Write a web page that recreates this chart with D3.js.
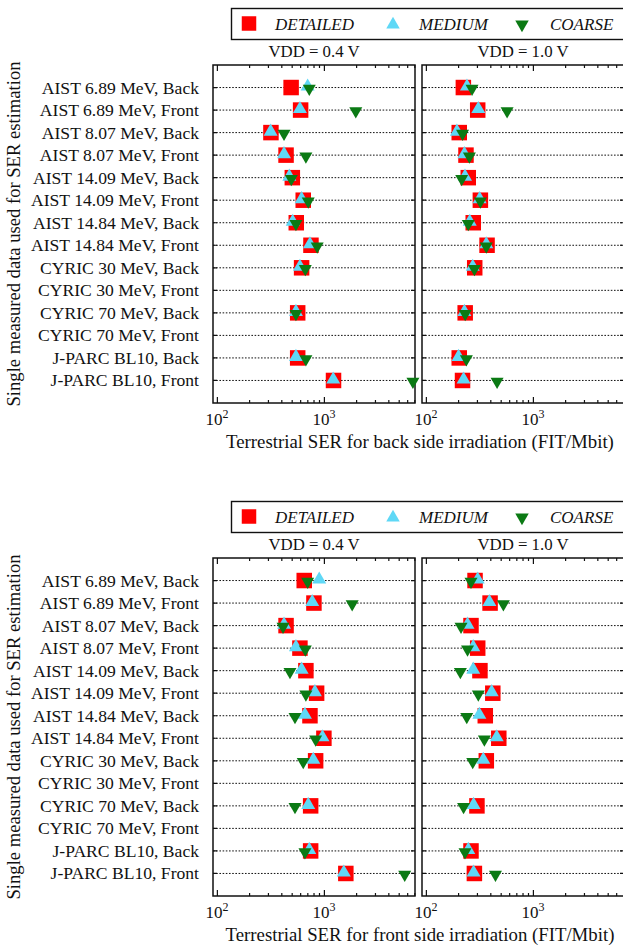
<!DOCTYPE html>
<html>
<head>
<meta charset="utf-8">
<script src="https://cdn.jsdelivr.net/npm/d3@7"></script>
<style>
  html, body { margin: 0; padding: 0; background: #fff; }
  svg { display: block; }
  text { font-family: "Liberation Serif", "Times New Roman", serif; fill: #111; }
</style>
</head>
<body>
<svg id="chart" width="623" height="950"></svg>
<script>
// Measured-data sources used for the SER estimation (one row each)
const categories = [
  "AIST 6.89 MeV, Back", "AIST 6.89 MeV, Front",
  "AIST 8.07 MeV, Back", "AIST 8.07 MeV, Front",
  "AIST 14.09 MeV, Back", "AIST 14.09 MeV, Front",
  "AIST 14.84 MeV, Back", "AIST 14.84 MeV, Front",
  "CYRIC 30 MeV, Back", "CYRIC 30 MeV, Front",
  "CYRIC 70 MeV, Back", "CYRIC 70 MeV, Front",
  "J-PARC BL10, Back", "J-PARC BL10, Front"
];

const seriesNames = ["DETAILED", "MEDIUM", "COARSE"];
const voltageLabels = ["VDD = 0.4 V", "VDD = 1.0 V"];
const axisTitles = [
  "Terrestrial SER for back side irradiation (FIT/Mbit)",
  "Terrestrial SER for front side irradiation (FIT/Mbit)"
];
const yTitle = "Single measured data used for SER estimation";
const majorTicks = [100, 1000];
const minorTicks = [200, 300, 400, 500, 600, 700, 800, 900, 2000, 3000, 4000, 5000, 6000, 7000];

// Terrestrial SER (FIT/Mbit), back side irradiation
const back04Detailed = [494, 606, 320, 443, 507, 641, 552, 757, 619, null, 569, null, 569, 1230];
const back04Medium   = [705, 597, 318, 424, 475, 619, 511, 741, 597, null, 548, null, 548, 1222];
const back04Coarse   = [730, 1986, 424, 679, 496, 714, 548, 866, 670, null, 548, null, 679, 6790];
const back10Detailed = [224, 305, 205, 237, 249, 323, 277, 373, 286, null, 233, null, 205, 220];
const back10Medium   = [242, 309, 195, 229, 232, 318, 257, 367, 274, null, 229, null, 202, 225];
const back10Coarse   = [270, 574, 220, 255, 216, 323, 249, 367, 284, null, 233, null, 239, 463];

// Terrestrial SER (FIT/Mbit), front side irradiation
const front04Detailed = [655, 807, 443, 597, 679, 855, 741, 1000, 837, null, 752, null, 752, 1603];
const front04Medium   = [904, 778, 424, 548, 619, 824, 665, 970, 796, null, 714, null, 730, 1535];
const front04Coarse   = [705, 1837, 415, 670, 482, 679, 537, 837, 641, null, 537, null, 665, 5690];
const front10Detailed = [288, 398, 264, 305, 320, 422, 359, 480, 367, null, 300, null, 264, 284];
const front10Medium   = [305, 392, 245, 277, 277, 412, 316, 459, 344, null, 279, null, 249, 279];
const front10Coarse   = [264, 530, 213, 245, 210, 309, 241, 352, 274, null, 225, null, 232, 447];

const figures = [
  { top: 65,  title: axisTitles[0], panels: [
      [back04Detailed, back04Medium, back04Coarse],
      [back10Detailed, back10Medium, back10Coarse] ] },
  { top: 558, title: axisTitles[1], panels: [
      [front04Detailed, front04Medium, front04Coarse],
      [front10Detailed, front10Medium, front10Coarse] ] }
];

const colors = ["#ff0000", "#5fd8f6", "#0b7a14"];
const panelLeft = [213, 422];
const panelW = 202;
const panelH = 338;

const svg = d3.select("#chart");

const x = d3.scaleLog().domain([92, 7100]).range([0, panelW]);
const y = d3.scalePoint().domain(categories).range([0, panelH]).padding(1);

const squareSym = d3.symbol().type(d3.symbolSquare).size(15.5 * 15.5);
const upTri = d3.symbol().type(d3.symbolTriangle).size(14 * 14 * Math.sqrt(3) / 4);
const downTri = d3.symbol().type(d3.symbolTriangle).size(13 * 13 * Math.sqrt(3) / 4);

figures.forEach((fig) => {
  const g = svg.append("g");
  const top = fig.top;

  // legend box (runs past the right edge)
  const lg = g.append("g").attr("transform", `translate(0,${top - 57})`);
  lg.append("rect")
    .attr("x", 231.5).attr("y", 0.5).attr("width", 420).attr("height", 31)
    .attr("fill", "#fff").attr("stroke", "#111").attr("stroke-width", 1.4);
  const legendX = [249, 393, 522];
  seriesNames.forEach((name, k) => {
    const p = lg.append("path").attr("fill", colors[k]);
    if (k === 0) p.attr("d", d3.symbol().type(d3.symbolSquare).size(14.5 * 14.5)());
    else p.attr("d", d3.symbol().type(d3.symbolTriangle).size(13.5 * 13.5 * Math.sqrt(3) / 4)());
    p.attr("transform", `translate(${legendX[k]},${k === 0 ? 15.5 : 16.5})${k === 2 ? " rotate(180)" : ""}`);
    lg.append("text")
      .attr("x", legendX[k] + (k === 2 ? 28 : 26)).attr("y", 21.5)
      .attr("font-size", 17).attr("font-style", "italic")
      .text(name);
  });

  // y-axis title
  g.append("text")
    .attr("transform", `translate(20,${top + panelH / 2}) rotate(-90)`)
    .attr("text-anchor", "middle").attr("font-size", 18.6)
    .text(yTitle);

  // category labels
  g.append("g").selectAll("text").data(categories).join("text")
    .attr("x", 199).attr("y", d => top + y(d) + 6)
    .attr("text-anchor", "end").attr("font-size", 17.6)
    .text(d => d);

  fig.panels.forEach((series, pi) => {
    const pg = g.append("g").attr("transform", `translate(${panelLeft[pi]},${top})`);

    // panel title
    pg.append("text")
      .attr("x", panelW / 2).attr("y", -8)
      .attr("text-anchor", "middle").attr("font-size", 16.8)
      .text(voltageLabels[pi]);

    // dotted row lines
    pg.append("g").selectAll("line").data(categories).join("line")
      .attr("x1", 0).attr("x2", panelW)
      .attr("y1", d => y(d)).attr("y2", d => y(d))
      .attr("stroke", "#111").attr("stroke-width", 1)
      .attr("stroke-dasharray", "1.6,1.6");

    // row ticks on left / right frame
    pg.append("g").selectAll("path").data(categories).join("path")
      .attr("d", d => `M0,${y(d)}h4M${panelW},${y(d)}h-4`)
      .attr("stroke", "#111").attr("stroke-width", 1.2);

    // bottom and top axes with inward ticks
    const xb = d3.axisBottom(x).tickValues(majorTicks).tickSize(-6).tickFormat("");
    const xbm = d3.axisBottom(x).tickValues(minorTicks).tickSize(-3).tickFormat("");
    const xt = d3.axisTop(x).tickValues(majorTicks).tickSize(-6).tickFormat("");
    const xtm = d3.axisTop(x).tickValues(minorTicks).tickSize(-3).tickFormat("");
    [[xb, panelH], [xbm, panelH], [xt, 0], [xtm, 0]].forEach(([ax, yy]) => {
      const a = pg.append("g").attr("transform", `translate(0,${yy})`).call(ax);
      a.select(".domain").remove();
      a.selectAll("line").attr("stroke", "#111").attr("stroke-width", 1.2);
    });

    // 10^n tick labels
    const lab = pg.append("g").selectAll("text").data(majorTicks).join("text")
      .attr("x", d => x(d)).attr("y", panelH + 22)
      .attr("text-anchor", "middle").attr("font-size", 17);
    lab.append("tspan").text("10");
    lab.append("tspan").attr("dy", -7).attr("font-size", 12).text(d => Math.round(Math.log10(d)));

    // frame
    pg.append("rect")
      .attr("x", 0).attr("y", 0).attr("width", panelW).attr("height", panelH)
      .attr("fill", "none").attr("stroke", "#111").attr("stroke-width", 1.5);

    // markers: detailed, medium, coarse (coarse drawn last)
    series.forEach((vals, k) => {
      const pts = vals.map((v, i) => ({ v, c: categories[i] })).filter(d => d.v != null);
      pg.append("g").selectAll("path").data(pts).join("path")
        .attr("fill", colors[k])
        .attr("d", k === 0 ? squareSym() : k === 1 ? upTri() : downTri())
        .attr("transform", d => `translate(${x(d.v)},${y(d.c) + (k === 0 ? 0 : k === 1 ? -1 : 1)})${k === 2 ? " rotate(180)" : ""}`);
    });
  });

  // x-axis title
  g.append("text")
    .attr("x", 420).attr("y", top + panelH + 45)
    .attr("text-anchor", "middle").attr("font-size", 18.8)
    .text(fig.title);
});
</script>
</body>
</html>
